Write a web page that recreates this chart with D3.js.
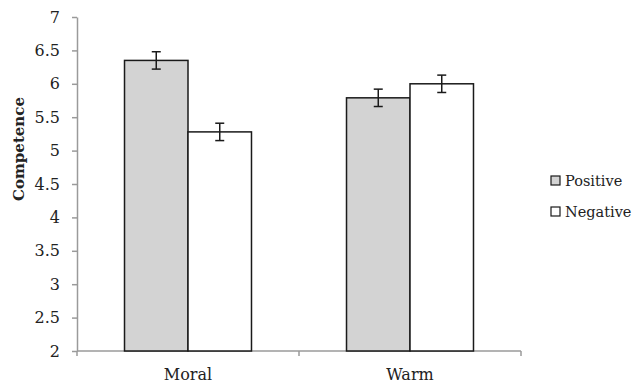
<!DOCTYPE html>
<html>
<head>
<meta charset="utf-8">
<script src="https://cdn.jsdelivr.net/npm/d3@7"></script>
<style>
  body { margin: 0; background: #fff; }
  svg text { font-family: "DejaVu Serif", serif; fill: #222; }
  .axis path, .axis line { stroke: #9a9a9a; stroke-width: 1.5; }
  .axis text { font-size: 16px; }
</style>
</head>
<body>
<svg id="chart" width="634" height="385"></svg>
<script>
// data
const categories = ['Moral', 'Warm'];
const seriesNames = ['Positive', 'Negative'];
const positiveValues = [6.35, 5.79];
const negativeValues = [5.28, 6.0];
const positiveErr = [0.13, 0.13];
const negativeErr = [0.13, 0.13];
const yTicks = [2, 2.5, 3, 3.5, 4, 4.5, 5, 5.5, 6, 6.5, 7];
const seriesFill = ['#d3d3d3', '#ffffff'];

const svg = d3.select('#chart');

const DIM = {
    margin_left: 77,
    margin_top: 17,
    plot_right: 521,
    plot_bottom: 351
};

const rows = categories.map((c, i) => ({
    cat: c,
    vals: [
        { s: seriesNames[0], v: positiveValues[i], e: positiveErr[i] },
        { s: seriesNames[1], v: negativeValues[i], e: negativeErr[i] }
    ]
}));

const x0 = d3.scaleBand()
    .domain(categories)
    .range([DIM.margin_left, DIM.plot_right])
    .paddingInner(0.428)
    .paddingOuter(0.214);

const x1 = d3.scaleBand()
    .domain(seriesNames)
    .range([0, x0.bandwidth()]);

const y = d3.scaleLinear()
    .domain([2, 7])
    .range([DIM.plot_bottom, DIM.margin_top]);

const color = d3.scaleOrdinal().domain(seriesNames).range(seriesFill);

// y axis
svg.append('g')
    .attr('class', 'axis')
    .attr('transform', `translate(${DIM.margin_left},0)`)
    .call(d3.axisLeft(y).tickValues(yTicks).tickSize(5).tickSizeOuter(0).tickPadding(12)
        .tickFormat(d3.format('')));

// x axis: ticks on band boundaries, labels at band centres
const xAxisG = svg.append('g')
    .attr('class', 'axis')
    .attr('transform', `translate(0,${DIM.plot_bottom})`);
const step = x0.step();
const bounds = [DIM.margin_left, DIM.margin_left + step, DIM.margin_left + 2 * step];
xAxisG.append('path')
    .attr('d', `M${DIM.margin_left},0H${DIM.plot_right}`)
    .attr('fill', 'none');
xAxisG.selectAll('line.bound')
    .data(bounds)
    .join('line')
    .attr('class', 'bound')
    .attr('x1', d => d).attr('x2', d => d)
    .attr('y1', 0).attr('y2', 5);

// bars
const groups = svg.append('g').selectAll('g')
    .data(rows)
    .join('g')
    .attr('transform', d => `translate(${x0(d.cat)},0)`);

groups.selectAll('rect')
    .data(d => d.vals)
    .join('rect')
    .attr('x', d => x1(d.s))
    .attr('y', d => y(d.v))
    .attr('width', x1.bandwidth())
    .attr('height', d => y(2) - y(d.v))
    .attr('fill', d => color(d.s))
    .attr('stroke', '#1a1a1a')
    .attr('stroke-width', 1.5);

// error bars
const eb = groups.selectAll('g.err')
    .data(d => d.vals)
    .join('g')
    .attr('class', 'err')
    .attr('stroke', '#1a1a1a')
    .attr('stroke-width', 1.5);
const cx = d => x1(d.s) + x1.bandwidth() / 2;
eb.append('line')
    .attr('x1', cx).attr('x2', cx)
    .attr('y1', d => y(d.v + d.e)).attr('y2', d => y(d.v - d.e));
eb.append('line')
    .attr('x1', d => cx(d) - 4.5).attr('x2', d => cx(d) + 4.5)
    .attr('y1', d => y(d.v + d.e)).attr('y2', d => y(d.v + d.e));
eb.append('line')
    .attr('x1', d => cx(d) - 4.5).attr('x2', d => cx(d) + 4.5)
    .attr('y1', d => y(d.v - d.e)).attr('y2', d => y(d.v - d.e));

// category labels
svg.append('g').selectAll('text')
    .data(categories)
    .join('text')
    .attr('x', d => x0(d) + x0.bandwidth() / 2)
    .attr('y', 380)
    .attr('text-anchor', 'middle')
    .style('font-size', '16px')
    .text(d => d);

// y axis title
svg.append('text')
    .attr('transform', 'translate(24,149) rotate(-90)')
    .attr('text-anchor', 'middle')
    .style('font-size', '15px')
    .style('font-weight', 'bold')
    .text('Competence');

// legend
const legend = svg.append('g').selectAll('g')
    .data(seriesNames)
    .join('g')
    .attr('transform', (d, i) => `translate(551,${176 + i * 31})`);
legend.append('rect')
    .attr('width', 9).attr('height', 9)
    .attr('fill', d => color(d))
    .attr('stroke', '#1a1a1a')
    .attr('stroke-width', 1.2);
legend.append('text')
    .attr('x', 14)
    .attr('y', 10)
    .style('font-size', '14.5px')
    .text(d => d);
</script>
</body>
</html>
